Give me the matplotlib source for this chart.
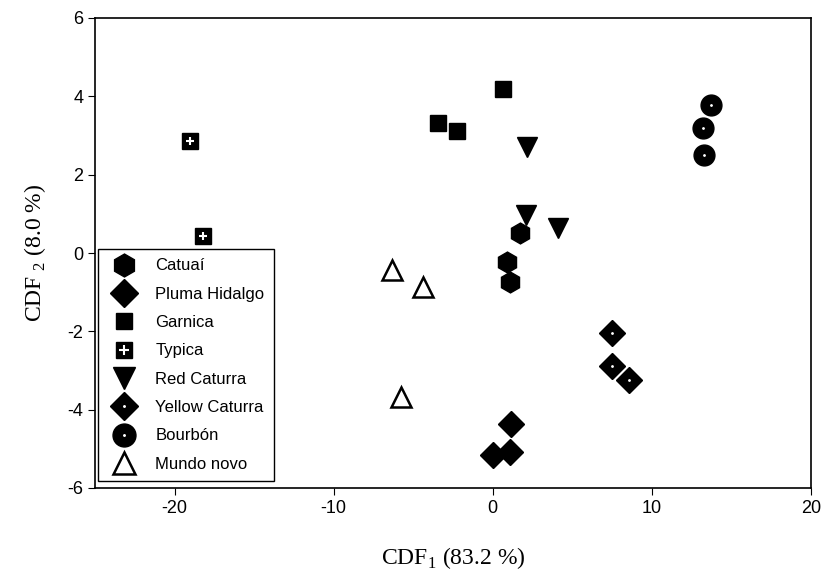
import matplotlib
matplotlib.use("Agg")
import matplotlib.pyplot as plt
from matplotlib.legend_handler import HandlerTuple

plt.rcParams['font.family'] = ['Liberation Sans', 'DejaVu Sans']
plt.rcParams['mathtext.fontset'] = 'custom'
plt.rcParams['mathtext.rm'] = 'Liberation Serif'
plt.rcParams['axes.unicode_minus'] = False

# CDF scores
catuai_x = [1.70, 0.90, 1.07]
catuai_y = [0.52, -0.22, -0.73]
pluma_x = [1.17, 0.02, 1.07]
pluma_y = [-4.37, -5.17, -5.09]
garnica_x = [0.65, -3.44, -2.22]
garnica_y = [4.20, 3.31, 3.12]
typica_x = [-19.06, -18.2]
typica_y = [2.86, 0.43]
red_x = [2.16, 2.08, 4.13]
red_y = [2.71, 0.97, 0.63]
yellow_x = [7.50, 7.47, 8.55]
yellow_y = [-2.03, -2.88, -3.24]
bourbon_x = [13.70, 13.19, 13.29]
bourbon_y = [3.78, 3.18, 2.50]
mundo_x = [-6.35, -4.40, -5.79]
mundo_y = [-0.43, -0.87, -3.68]

labels = ['Catuaí', 'Pluma Hidalgo', 'Garnica', 'Typica', 'Red Caturra',
          'Yellow Caturra', 'Bourbón', 'Mundo novo']

fig = plt.figure(figsize=(8.24, 5.72), dpi=100)
ax = fig.add_axes([95/824, 1-488/572, 716/824, 470/572])

h1, = ax.plot(catuai_x, catuai_y, 'h', color='black', ms=15, ls='none')
h2, = ax.plot(pluma_x, pluma_y, 'D', color='black', ms=13, ls='none')
h3, = ax.plot(garnica_x, garnica_y, 's', color='black', ms=11, ls='none')
h4a, = ax.plot(typica_x, typica_y, 's', color='black', ms=11, ls='none')
h4b, = ax.plot(typica_x, typica_y, '+', color='white', ms=6, mew=1.5, ls='none')
h5, = ax.plot(red_x, red_y, 'v', color='black', ms=15, ls='none')
h6a, = ax.plot(yellow_x, yellow_y, 'D', color='black', ms=13, ls='none')
h6b, = ax.plot(yellow_x, yellow_y, '.', color='white', ms=2, ls='none')
h7a, = ax.plot(bourbon_x, bourbon_y, 'o', color='black', ms=15, ls='none')
h7b, = ax.plot(bourbon_x, bourbon_y, '.', color='white', ms=2, ls='none')
h8, = ax.plot(mundo_x, mundo_y, '^', mfc='white', mec='black', mew=1.8, ms=14, ls='none')

ax.set_xlim(-25, 20)
ax.set_ylim(-6, 6)
ax.set_xticks([-20, -10, 0, 10, 20])
ax.set_yticks([-6, -4, -2, 0, 2, 4, 6])
ax.tick_params(direction='out', length=5, labelsize=13, top=False, right=False)
for s in ax.spines.values():
    s.set_linewidth(1.2)

ax.set_xlabel(r'CDF$_1$ (83.2 %)', fontfamily='Liberation Serif', fontsize=17, labelpad=20)
ax.set_ylabel(r'CDF$_{\ 2}$ (8.0 %)', fontfamily='Liberation Serif', fontsize=17, labelpad=14)

leg = ax.legend([h1, h2, h3, (h4a, h4b), h5, (h6a, h6b), (h7a, h7b), h8], labels,
                handler_map={tuple: HandlerTuple(ndivide=1)},
                loc='lower left', bbox_to_anchor=(0.004, 0.015), fontsize=12,
                frameon=True, fancybox=False, edgecolor='black', framealpha=1,
                borderpad=0.55, labelspacing=0.8, handlelength=2.0, handletextpad=0.9,
                borderaxespad=0, markerscale=1.1)
leg.get_frame().set_linewidth(1.0)

fig.savefig('out.png', dpi=100)
